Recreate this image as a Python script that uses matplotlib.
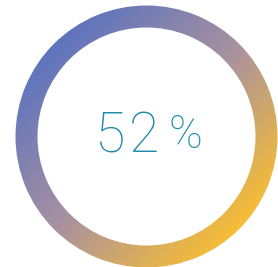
import numpy as np
import matplotlib.pyplot as plt
from matplotlib.patches import Wedge

# data
value = 52
label_parts = [str(value)[0], str(value)[1], '%']

# gradient stops: blue (top-left) -> mauve (middle) -> yellow (bottom-right)
stop_pos = [0.0, 0.5, 1.0]
stop_colors = np.array([[94, 116, 190], [168, 145, 160], [248, 190, 52]]) / 255.
text_color = '#1f8cab'

W, H = 278, 267
fig = plt.figure(figsize=(W / 100, H / 100), dpi=100)
ax = fig.add_axes([0, 0, 1, 1])
ax.set_xlim(0, W)
ax.set_ylim(H, 0)
ax.axis('off')

cx, cy, r_out, width = 146.5, 136.5, 131, 22

# diagonal gradient image, clipped to the ring
yy, xx = np.mgrid[0:H, 0:W]
half = r_out * np.sqrt(2)
t = np.clip(((xx - cx) + (yy - cy)) / (2 * half) + 0.5, 0, 1)
img = np.stack([np.interp(t, stop_pos, stop_colors[:, k]) for k in range(3)], axis=-1)

ring = Wedge((cx, cy), r_out, 0, 360, width=width, facecolor='none', edgecolor='none')
ax.add_patch(ring)
im = ax.imshow(img, extent=(0, W, H, 0), interpolation='bilinear')
im.set_clip_path(ring)

fs = 40
font = dict(family='Roboto', weight='light', color=text_color, ha='center', va='center')
ax.text(109, cy, label_parts[0], fontsize=fs, **font)
ax.text(144, cy, label_parts[1], fontsize=fs, **font)
ax.text(185, cy - 2, label_parts[2], fontsize=fs * 0.82, **font)

fig.savefig('out.png', dpi=100)
